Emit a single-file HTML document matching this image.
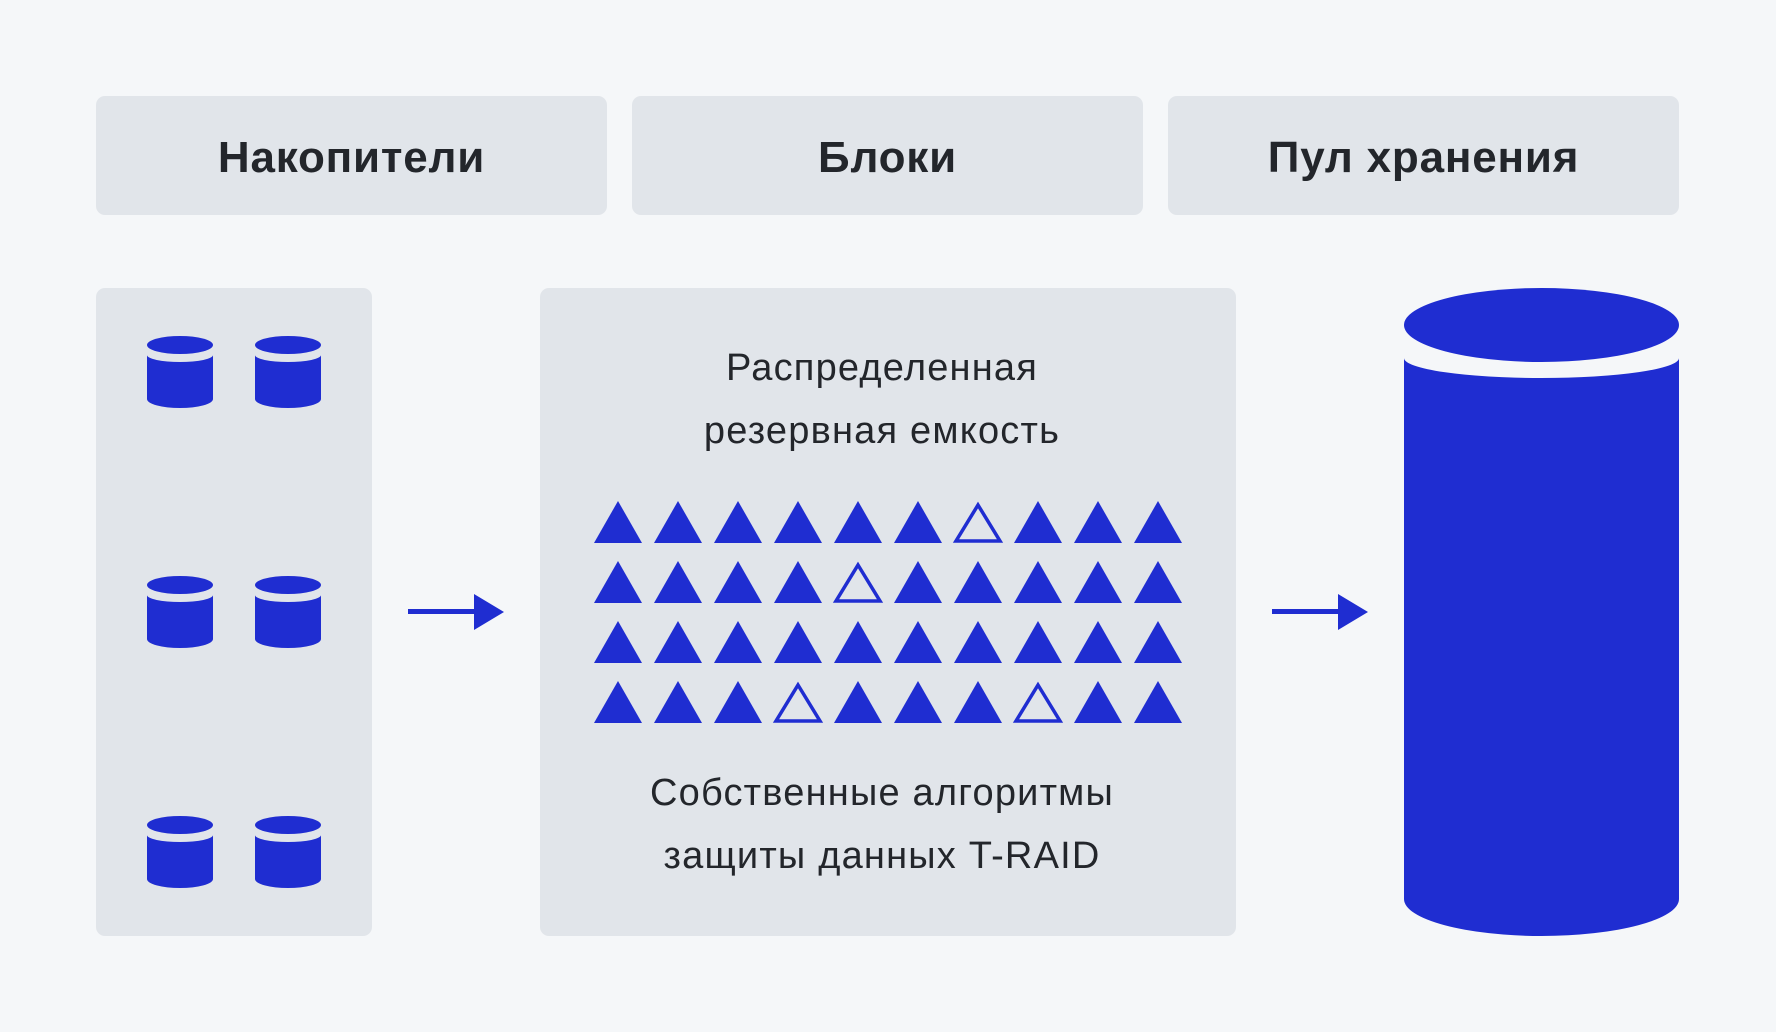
<!DOCTYPE html>
<html><head><meta charset="utf-8"><style>
html,body{margin:0;padding:0;background:#f5f7f9;}
body{width:1776px;height:1032px;position:relative;overflow:hidden;font-family:"Liberation Sans",sans-serif;color:#23262b;}
.hb{position:absolute;top:96px;height:119px;width:511px;background:#e1e5ea;border-radius:9px;display:flex;align-items:center;justify-content:center;font-size:44px;font-weight:bold;letter-spacing:0.8px;padding-top:4px;box-sizing:border-box;}
.p{position:absolute;top:288px;height:648px;background:#e1e5ea;border-radius:9px;}
.t{position:absolute;left:534px;width:696px;text-align:center;font-size:38px;line-height:63px;letter-spacing:1.2px;}
</style></head><body>
<div class="hb" style="left:96px">Накопители</div>
<div class="hb" style="left:632px">Блоки</div>
<div class="hb" style="left:1168px">Пул хранения</div>
<div class="p" style="left:96px;width:276px"></div>
<div class="p" style="left:540px;width:696px"></div>
<div class="t" style="top:337px">Распределенная<br>резервная емкость</div>
<div class="t" style="top:762px">Собственные алгоритмы<br>защиты данных T-RAID</div>
<svg width="1776" height="1032" style="position:absolute;left:0;top:0">
<defs>
<g id="cy">
<path d="M0,30 A33,7 0 0 0 66,30 L66,74 A33,9 0 0 1 0,74 Z" fill="#1f2dd1"/>
<ellipse cx="33" cy="20" rx="33" ry="9" fill="#1f2dd1"/>
</g>
</defs>
<use href="#cy" x="147" y="325"/><use href="#cy" x="255" y="325"/>
<use href="#cy" x="147" y="565"/><use href="#cy" x="255" y="565"/>
<use href="#cy" x="147" y="805"/><use href="#cy" x="255" y="805"/>
<g fill="#1f2dd1">
<rect x="408" y="609" width="70" height="5"/><polygon points="474,594 504,612 474,630"/>
<rect x="1272" y="609" width="70" height="5"/><polygon points="1338,594 1368,612 1338,630"/>
<path d="M1404,358 A137.5,20 0 0 0 1679,358 L1679,899 A137.5,37 0 0 1 1404,899 Z"/>
<ellipse cx="1541.5" cy="325" rx="137.5" ry="37"/>
</g>
<g id="tri"></g>
</svg>
<script>
var g=document.getElementById('tri'),ns='http://www.w3.org/2000/svg';
var hollow={'0,6':1,'1,4':1,'3,3':1,'3,7':1};
for(var r=0;r<4;r++)for(var c=0;c<10;c++){
var x=594+60*c,y=501+60*r,p=document.createElementNS(ns,'polygon');
if(hollow[r+','+c]){p.setAttribute('points',(x+24)+','+(y+4)+' '+(x+46)+','+(y+40)+' '+(x+2)+','+(y+40));p.setAttribute('fill','none');p.setAttribute('stroke','#1f2dd1');p.setAttribute('stroke-width','3.5');}
else{p.setAttribute('points',(x+24)+','+y+' '+(x+48)+','+(y+42)+' '+x+','+(y+42));p.setAttribute('fill','#1f2dd1');}
g.appendChild(p);}
</script>
</body></html>
